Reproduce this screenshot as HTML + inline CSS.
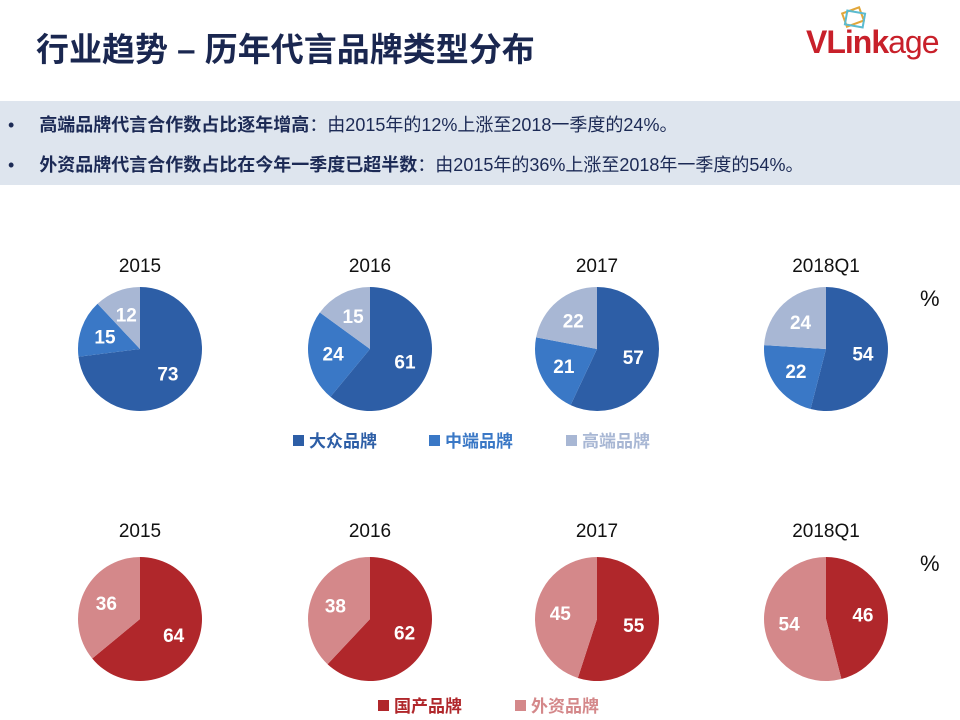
<!DOCTYPE html>
<html><head><meta charset="utf-8">
<style>
body{margin:0;width:960px;height:720px;background:#fff;overflow:hidden;font-family:"Liberation Sans","Noto Sans CJK SC",sans-serif;position:relative}
.t{position:absolute;white-space:nowrap}
</style></head><body>
<div class="t" style="left:36px;top:23px;font-size:33px;font-weight:bold;color:#1a2750">行业趋势 – 历年代言品牌类型分布</div>
<div class="t" style="left:806px;top:24px;font-size:32px;font-weight:bold;color:#c8202a;letter-spacing:-1px">VLink<span style="font-weight:normal">age</span></div>
<svg style="position:absolute;left:836px;top:4px" width="36" height="30"><rect x="8" y="6" width="18" height="14" fill="none" stroke="#e2a73a" stroke-width="2" transform="rotate(-20 17 13)"/><rect x="10" y="8" width="18" height="14" fill="none" stroke="#5bbbd0" stroke-width="2" transform="rotate(10 19 15)"/></svg>
<div style="position:absolute;left:0;top:101px;width:960px;height:84px;background:#dee5ee"></div>
<div class="t" style="left:8px;top:111px;font-size:18px;color:#1c2a55">•&nbsp;&nbsp;&nbsp;&nbsp;&nbsp;<b>高端品牌代言合作数占比逐年增高</b>：由2015年的12%上涨至2018一季度的24%。</div>
<div class="t" style="left:8px;top:151px;font-size:18px;color:#1c2a55">•&nbsp;&nbsp;&nbsp;&nbsp;&nbsp;<b>外资品牌代言合作数占比在今年一季度已超半数</b>：由2015年的36%上涨至2018年一季度的54%。</div>
<svg id="c" width="960" height="720" style="position:absolute;left:0;top:0"></svg>
<script>
const years=["2015","2016","2017","2018Q1"];
const mass=[73,61,57,54];
const mid=[15,24,21,22];
const high=[12,15,22,24];
const domestic=[64,62,55,46];
const foreign=[36,38,45,54];
const ns="http://www.w3.org/2000/svg";
const svg=document.getElementById('c');
const cx=[140,370,597,826];
function mk(tag,a){const e=document.createElementNS(ns,tag);for(const k in a)e.setAttribute(k,a[k]);svg.appendChild(e);return e;}
function pie(x,y,r,vals,cols,names,yr){
  const tot=vals.reduce((a,b)=>a+b,0);let a0=0;
  vals.forEach((v,i)=>{
    const a1=a0+v/tot*2*Math.PI;
    const x0=x+r*Math.sin(a0),y0=y-r*Math.cos(a0),x1=x+r*Math.sin(a1),y1=y-r*Math.cos(a1);
    const p=mk('path',{d:`M${x},${y}L${x0},${y0}A${r},${r} 0 ${a1-a0>Math.PI?1:0} 1 ${x1},${y1}Z`,fill:cols[i]});
    
    
    const am=(a0+a1)/2;
    const t=mk('text',{x:x+r*0.6*Math.sin(am),y:y-r*0.6*Math.cos(am)+7,'text-anchor':'middle','font-size':19,'font-weight':'bold',fill:'#fff'});
    t.textContent=v;
    
    
    a0=a1;
  });
}
years.forEach((yr,i)=>{
  let t=mk('text',{x:cx[i],y:272,'text-anchor':'middle','font-size':19,fill:'#111'});t.textContent=yr;
  
  
  t=mk('text',{x:cx[i],y:537,'text-anchor':'middle','font-size':19,fill:'#111'});t.textContent=yr;
  
  
  pie(cx[i],349,62,[mass[i],mid[i],high[i]],['#2d5ea6','#3a78c6','#a8b7d4'],['mass','mid','high'],yr);
  pie(cx[i],619,62,[domestic[i],foreign[i]],['#b0272b','#d4888a'],['domestic','foreign'],yr);
});
[[920,306],[920,571]].forEach(p=>{const t=mk('text',{x:p[0],y:p[1],'font-size':22,fill:'#111'});t.textContent='%';

});
function leg(x,y,col,txt){mk('rect',{x:x,y:y-12,width:11,height:11,fill:col});const t=mk('text',{x:x+16,y:y,'font-size':17,'font-weight':'bold',fill:col});t.textContent=txt;

}
leg(293,447,'#2d5ea6','大众品牌');leg(429,447,'#3a78c6','中端品牌');leg(566,447,'#a8b7d4','高端品牌');
leg(378,712,'#b0272b','国产品牌');leg(515,712,'#d4888a','外资品牌');
</script>
</body></html>
